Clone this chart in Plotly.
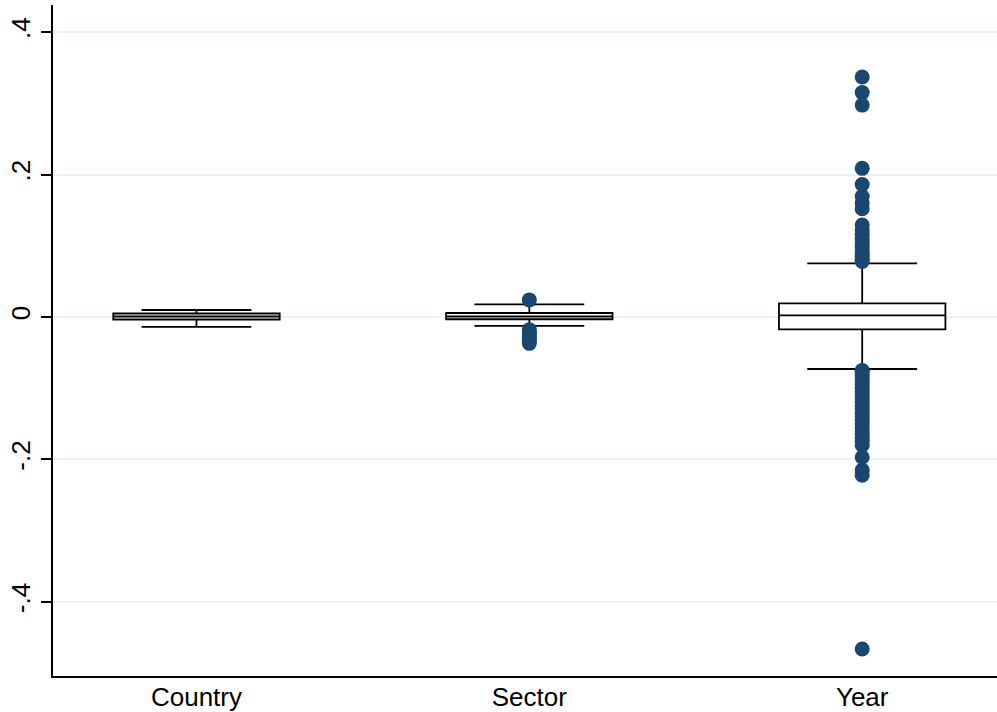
import plotly.graph_objects as go

categories = ["Country", "Sector", "Year"]
positions = [0, 1, 2]

q1 = [-0.0035, -0.0032, -0.0173]
median = [0.0007, 0.0007, 0.0024]
q3 = [0.0049, 0.0056, 0.0192]
lower_fence = [-0.014, -0.0126, -0.073]
upper_fence = [0.0098, 0.0178, 0.0754]

outliers_country = []
outliers_sector = [0.024, -0.018, -0.021, -0.024, -0.027, -0.030, -0.033, -0.037]
outliers_year = [
    0.337, 0.315, 0.2975, 0.2087, 0.186, 0.169, 0.160, 0.152, 0.129, 0.122,
    0.116, 0.110, 0.104, 0.099, 0.094, 0.089, 0.085, 0.081, 0.078,
    -0.075, -0.078, -0.082, -0.086, -0.090, -0.095, -0.100, -0.105, -0.110,
    -0.115, -0.120, -0.125, -0.130, -0.135, -0.140, -0.145, -0.150, -0.155,
    -0.160, -0.165, -0.170, -0.175, -0.180, -0.197, -0.215, -0.222, -0.466,
]
outliers = [outliers_country, outliers_sector, outliers_year]

ytick_vals = [-0.4, -0.2, 0, 0.2, 0.4]
ytick_text = ["-.4", "-.2", "0", ".2", ".4"]

MARKER = "#1a476f"

fig = go.Figure()
for i, name in enumerate(categories):
    fig.add_trace(go.Box(
        x=[positions[i]], q1=[q1[i]], median=[median[i]], q3=[q3[i]],
        lowerfence=[lower_fence[i]], upperfence=[upper_fence[i]],
        width=0.5, whiskerwidth=0.66, boxpoints=False,
        fillcolor="white", line=dict(color="black", width=1.8),
        name=name, showlegend=False, hoverinfo="skip",
    ))
for i, vals in enumerate(outliers):
    if vals:
        fig.add_trace(go.Scatter(
            x=[positions[i]] * len(vals), y=vals, mode="markers",
            marker=dict(color=MARKER, size=15, line=dict(width=0)),
            showlegend=False, hoverinfo="skip",
        ))

fig.update_layout(
    width=997, height=712,
    margin=dict(l=53, r=0, t=5, b=36),
    paper_bgcolor="white", plot_bgcolor="white",
    font=dict(family="Liberation Sans, Arial, sans-serif", size=26, color="black"),
    showlegend=False,
)
fig.update_xaxes(
    range=[-0.431, 2.405], tickmode="array", tickvals=positions, ticktext=categories,
    showline=True, linecolor="black", linewidth=1.8, ticks="", showgrid=False,
    zeroline=False, tickfont=dict(size=26), automargin=False, ticklabelstandoff=-3,
)
fig.update_yaxes(
    range=[-0.504, 0.438], tickmode="array", tickvals=ytick_vals, ticktext=ytick_text,
    tickangle=-90, showline=True, linecolor="black", linewidth=1.8,
    ticks="outside", ticklen=10, tickwidth=1.5, tickcolor="black",
    showgrid=True, gridcolor="#eaf2f3", gridwidth=2, zeroline=False,
    tickfont=dict(size=26), automargin=False, ticklabelstandoff=1,
)

fig.write_html(
    "out.html",
    config={"displayModeBar": False},
    post_script="document.body.style.margin='0';document.body.style.overflow='hidden';",
)
